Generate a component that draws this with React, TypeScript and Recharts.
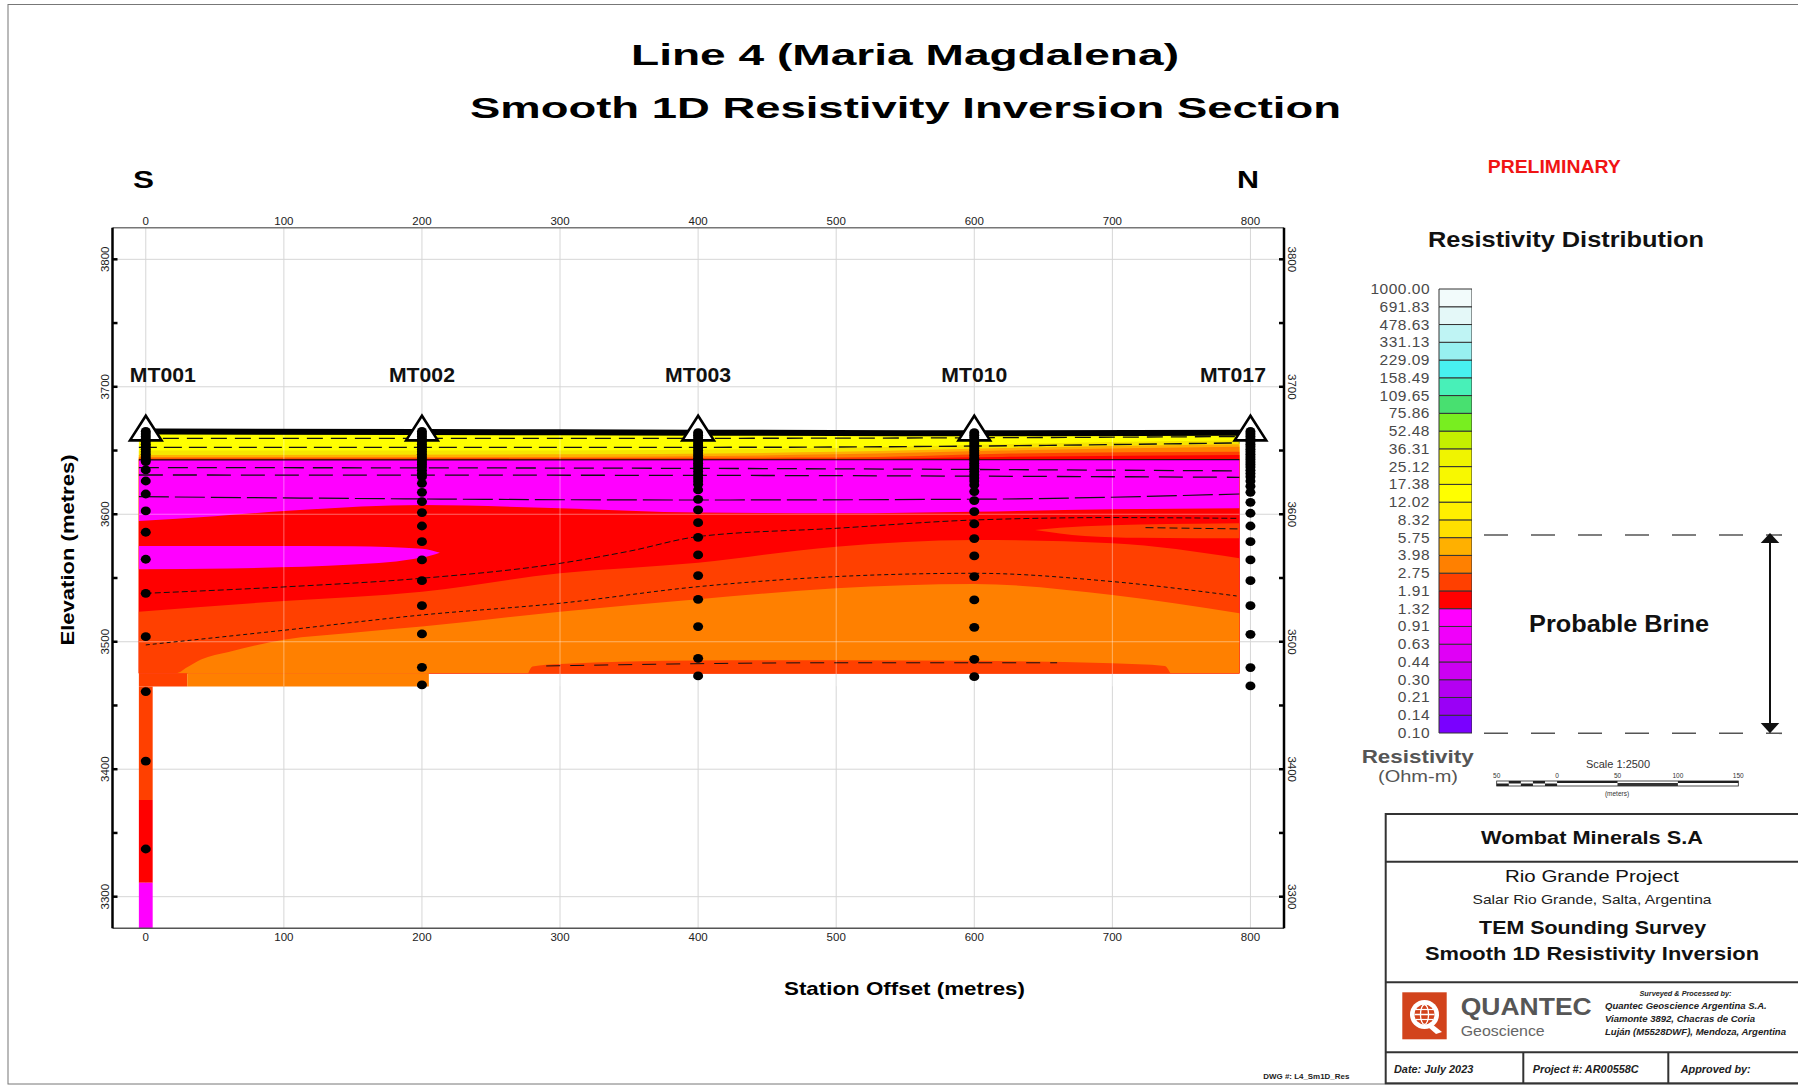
import React from "react";
import {
  ComposedChart,
  Area,
  Line,
  Scatter,
  XAxis,
  YAxis,
  CartesianGrid,
  BarChart,
  Bar,
} from "recharts";

const FONT = "'Liberation Sans', Arial, Helvetica, sans-serif";

type Pt = [number, number];

// ---- axes ----
const X_TICKS = [0, 100, 200, 300, 400, 500, 600, 700, 800];
const Y_TICKS = [3300, 3350, 3400, 3450, 3500, 3550, 3600, 3650, 3700, 3750, 3800];
const Y_GRID = [3300, 3400, 3500, 3600, 3700, 3800];
const X_DOMAIN: [number, number] = [-24.1, 824.3];
const Y_DOMAIN: [number, number] = [3275.2, 3824.8];

// ---- stations ----
const STATIONS = [0, 200, 400, 600, 800];
const STATION_NAMES = ["MT001", "MT002", "MT003", "MT010", "MT017"];
const SURFACE_ELEV = 3664;
const LABEL_ELEV = 3704;

// sounding layer elevations (m) per station
const DOTS_MT001 = [3665, 3663, 3661, 3659, 3657, 3655, 3653, 3651, 3649, 3647, 3645, 3643, 3641.3, 3634.8, 3626.1, 3615.9, 3602.6, 3585.9, 3564.7, 3538, 3504, 3460.9, 3406.4, 3337.4];
const DOTS_MT002 = [3665, 3663, 3661, 3659, 3657, 3655, 3653, 3651, 3649, 3647, 3645, 3643, 3641, 3639, 3637, 3634.5, 3632, 3629.5, 3624.3, 3617.2, 3609.9, 3601.3, 3590.8, 3578.5, 3564.2, 3547.9, 3528.3, 3506.1, 3479.9, 3466.1];
const DOTS_MT003 = [3664, 3662, 3660, 3658, 3656, 3654, 3652, 3650, 3648, 3646, 3644, 3642, 3640, 3638, 3636, 3633.5, 3631, 3628.5, 3626, 3623.5, 3619.1, 3611.7, 3603.4, 3593.4, 3581.9, 3568.1, 3551.9, 3533.3, 3511.9, 3487, 3473.2];
const DOTS_MT010 = [3664, 3662, 3660, 3658, 3656, 3654, 3652, 3650, 3648, 3646, 3644, 3642, 3640, 3638, 3636, 3633.5, 3631, 3628.5, 3626, 3623, 3617.8, 3610.7, 3602, 3592.4, 3580.9, 3567.3, 3551.1, 3532.8, 3511.3, 3486.2, 3472.6];
const DOTS_MT017 = [3665, 3663, 3661, 3659, 3657, 3655, 3653, 3651, 3649, 3647, 3645, 3643, 3641, 3639, 3637, 3634.5, 3632, 3629.5, 3626, 3622, 3617.2, 3609.4, 3600.8, 3590.8, 3578.5, 3564.2, 3547.9, 3528.3, 3505.8, 3479.7, 3465.3];
const STATION_DOTS = [DOTS_MT001, DOTS_MT002, DOTS_MT003, DOTS_MT010, DOTS_MT017];

// ---- resistivity section (elevation boundaries, m) ----
const FLOOR_EAST = 3475.3;
const FLOOR_WEST = 3464.8;
const COLUMN_FLOOR = 3275.2;

const SURFACE_LINE: Pt[] = [[-5, 3665], [200, 3664.5], [400, 3664], [600, 3663.5], [800, 3664]];
const TOP_YELLOW: Pt[] = [[-5, 3665], [200, 3664.5], [400, 3664], [600, 3663.5], [792, 3664]];
const TOP_GOLD: Pt[] = [[-5, 3650], [300, 3650], [500, 3652], [620, 3655], [792, 3658]];
const TOP_AMBER: Pt[] = [[-5, 3646.5], [300, 3647], [500, 3649], [620, 3652], [792, 3655]];
const TOP_ORANGE_THIN: Pt[] = [[-5, 3645], [300, 3645], [500, 3647], [620, 3650], [792, 3653]];
const TOP_REDOR_THIN: Pt[] = [[-5, 3643.8], [500, 3644.5], [620, 3647.5], [792, 3649]];
const TOP_RED_THIN: Pt[] = [[-5, 3643.2], [500, 3643.5], [620, 3645], [792, 3646.5]];
const TOP_MAGENTA: Pt[] = [[-5, 3642.5], [792, 3642.5]];
const TOP_RED: Pt[] = [[-5, 3594.7], [50, 3598.5], [100, 3602.5], [200, 3607.3], [300, 3604.7], [400, 3601.3], [500, 3600.8], [600, 3602], [700, 3603.9], [792, 3604.7]];
const TOP_REDOR: Pt[] = [[-5, 3523.6], [100, 3532], [200, 3539.3], [300, 3553.7], [400, 3562], [500, 3574.6], [600, 3579.8], [700, 3577.2], [792, 3565.5]];
const TOP_ORANGE: Pt[] = [[-5, 3475.3], [22, 3475.3], [30, 3480], [40, 3486], [60, 3492], [100, 3501.5], [150, 3507], [200, 3511.9], [300, 3523.6], [400, 3533.3], [500, 3541.9], [600, 3545.3], [700, 3536.7], [792, 3522.3]];

const WEST_STRIP_REDOR_X = [-5, 30];
const WEST_STRIP_ORANGE_X = [30, 205];

const LENS_MAGENTA_X = [-5, 60, 150, 200, 213];
const LENS_MAGENTA_LOW = [3556.8, 3557.5, 3560.5, 3566, 3569.9];
const LENS_MAGENTA_HIGH = [3575.1, 3575.1, 3575, 3573, 3569.9];

const LENS_EAST_X = [644, 680, 720, 760, 792];
const LENS_EAST_LOW = [3587.7, 3583, 3581.5, 3581.2, 3581.2];
const LENS_EAST_HIGH = [3587.7, 3590.5, 3592, 3592.5, 3592.9];

const BASE_BAND_X = [277, 280, 300, 400, 500, 600, 700, 738, 742];
const BASE_BAND_HIGH = [3475.3, 3480.5, 3482.5, 3485.2, 3485.5, 3485, 3483.1, 3481, 3475.3];

const COLUMN_X = [-5, 5];
const COLUMN_REDOR: [number, number] = [3375.9, 3464.8];
const COLUMN_RED: [number, number] = [3311, 3375.9];
const COLUMN_MAGENTA: [number, number] = [COLUMN_FLOOR, 3311];

// contour lines
const CONTOUR_TOP: Pt[] = [[-5, 3659.6], [400, 3659.6], [600, 3660], [792, 3661]];
const CONTOUR_10: Pt[] = [[-5, 3652.5], [400, 3652.5], [600, 3653.5], [792, 3656]];
const CONTOUR_1A: Pt[] = [[-5, 3642.7], [792, 3642.8]];
const CONTOUR_M1: Pt[] = [[-5, 3636.6], [400, 3636], [792, 3634]];
const CONTOUR_M2: Pt[] = [[-5, 3630.8], [400, 3630.5], [792, 3629]];
const CONTOUR_1B: Pt[] = [[-5, 3613.8], [400, 3611.2], [600, 3611.8], [792, 3615.9]];
const CONTOUR_C1: Pt[] = [[0, 3538], [100, 3543], [200, 3549.8], [300, 3561.5], [350, 3571], [400, 3582.5], [500, 3589], [600, 3595.5], [700, 3597.4], [790, 3596.8]];
const CONTOUR_C2: Pt[] = [[0, 3497.5], [100, 3509], [200, 3521], [300, 3530.2], [400, 3543.2], [500, 3551.1], [600, 3553.7], [700, 3547.2], [790, 3535.9]];
const CONTOUR_C3: Pt[] = [[290, 3481], [500, 3483.5], [660, 3483.5]];
const CONTOUR_LENS: Pt[] = [[724, 3589.5], [792, 3588.5]];

const GRID_OVER_X = [100, 300, 500, 700];
const GRID_OVER_Y = [3500, 3600];
const SECTION_SPAN: [number, number] = [-5, 792];
const SECTION_DEPTH: [number, number] = [3465, 3664];

// ---- colour scale ----
const BAR_LABELS = ["0.10", "0.14", "0.21", "0.30", "0.44", "0.63", "0.91", "1.32", "1.91", "2.75", "3.98", "5.75", "8.32", "12.02", "17.38", "25.12", "36.31", "52.48", "75.86", "109.65", "158.49", "229.09", "331.13", "478.63", "691.83", "1000.00"];
const BAR_COLORS = ["#7a00ff", "#9a00f6", "#b400f2", "#cc00f2", "#e000f6", "#f000fa", "#ff00ff", "#ff0000", "#ff4000", "#ff8000", "#ffb000", "#ffe000", "#fff000", "#ffff00", "#f8f800", "#f0f400", "#c4f000", "#78ee20", "#48e070", "#48f0b8", "#48f0f0", "#98f0f0", "#bff4f4", "#e4f8f8", "#f2fbfb"];

const C_YELLOW = "#ffff00";
const C_GOLD = "#f6e600";
const C_AMBER = "#ffb000";
const C_ORANGE = "#ff8000";
const C_REDOR = "#ff4000";
const C_RED = "#ff0000";
const C_MAGENTA = "#ff00ff";

const toBand = (pts: Pt[], floor: number) => pts.map(([x, y]) => ({ x, r: [floor, y] }));
const toRange = (xs: number[], lows: number[], highs: number[]) =>
  xs.map((x, i) => ({ x, r: [lows[i], highs[i]] }));
const toFlat = (xs: number[], span: [number, number]) => xs.map((x) => ({ x, r: span }));
const toLine = (pts: Pt[]) => pts.map(([x, y]) => ({ x, y }));

const LAYERS = [
  { id: "yellow", top: TOP_YELLOW, fill: C_YELLOW },
  { id: "gold", top: TOP_GOLD, fill: C_GOLD },
  { id: "amber", top: TOP_AMBER, fill: C_AMBER },
  { id: "orangeThin", top: TOP_ORANGE_THIN, fill: C_ORANGE },
  { id: "redorThin", top: TOP_REDOR_THIN, fill: C_REDOR },
  { id: "redThin", top: TOP_RED_THIN, fill: C_RED },
  { id: "magenta", top: TOP_MAGENTA, fill: C_MAGENTA },
  { id: "red", top: TOP_RED, fill: C_RED },
  { id: "redor", top: TOP_REDOR, fill: C_REDOR },
  { id: "orange", top: TOP_ORANGE, fill: C_ORANGE },
];

const RANGES = [
  { id: "stripRedor", data: toFlat(WEST_STRIP_REDOR_X, [FLOOR_WEST, FLOOR_EAST]), fill: C_REDOR, type: "linear" },
  { id: "stripOrange", data: toFlat(WEST_STRIP_ORANGE_X, [FLOOR_WEST, FLOOR_EAST]), fill: C_ORANGE, type: "linear" },
  { id: "lensMagenta", data: toRange(LENS_MAGENTA_X, LENS_MAGENTA_LOW, LENS_MAGENTA_HIGH), fill: C_MAGENTA, type: "monotone" },
  { id: "lensEast", data: toRange(LENS_EAST_X, LENS_EAST_LOW, LENS_EAST_HIGH), fill: C_REDOR, type: "monotone" },
  { id: "baseBand", data: toRange(BASE_BAND_X, BASE_BAND_X.map(() => FLOOR_EAST), BASE_BAND_HIGH), fill: C_REDOR, type: "monotone" },
  { id: "colRedor", data: toFlat(COLUMN_X, COLUMN_REDOR), fill: C_REDOR, type: "linear" },
  { id: "colRed", data: toFlat(COLUMN_X, COLUMN_RED), fill: C_RED, type: "linear" },
  { id: "colMagenta", data: toFlat(COLUMN_X, COLUMN_MAGENTA), fill: C_MAGENTA, type: "linear" },
];

const CONTOURS = [
  { id: "ct", pts: CONTOUR_TOP, dash: "16 8", w: 1.3 },
  { id: "c10", pts: CONTOUR_10, dash: "18 7", w: 1.4 },
  { id: "c1a", pts: CONTOUR_1A, dash: undefined, w: 1.2 },
  { id: "cm1", pts: CONTOUR_M1, dash: "20 9", w: 1.3 },
  { id: "cm2", pts: CONTOUR_M2, dash: "24 10", w: 1.3 },
  { id: "c1b", pts: CONTOUR_1B, dash: "30 6", w: 1.2 },
  { id: "cc1", pts: CONTOUR_C1, dash: "6 3", w: 1 },
  { id: "cc2", pts: CONTOUR_C2, dash: "4 3", w: 1 },
  { id: "cc3", pts: CONTOUR_C3, dash: "14 10", w: 1 },
  { id: "clens", pts: CONTOUR_LENS, dash: "8 4", w: 1 },
];

const dotPoints = STATIONS.flatMap((x, i) => STATION_DOTS[i].map((y) => ({ x, y })));
const trianglePoints = STATIONS.map((x) => ({ x, y: SURFACE_ELEV }));
const labelPoints = STATIONS.map((x, i) => ({ x, y: LABEL_ELEV, name: STATION_NAMES[i], i }));
const gridOverlays = [
  ...GRID_OVER_X.map((x) => [{ x, y: SECTION_DEPTH[0] }, { x, y: SECTION_DEPTH[1] }]),
  ...GRID_OVER_Y.map((y) => [{ x: SECTION_SPAN[0], y }, { x: SECTION_SPAN[1], y }]),
];

const barRow: Record<string, number | string> = { name: "scale" };
BAR_COLORS.forEach((_, i) => (barRow[`c${i}`] = 1));

function TopTick(p: any) {
  return (
    <text x={p.x} y={p.y - 2.7} textAnchor="middle" fontSize={11.5} fill="#222" fontFamily={FONT}>
      {p.payload.value}
    </text>
  );
}

function BottomTick(p: any) {
  return (
    <text x={p.x} y={p.y + 12.4} textAnchor="middle" fontSize={11.5} fill="#222" fontFamily={FONT}>
      {p.payload.value}
    </text>
  );
}

function LeftTick(p: any) {
  const v = p.payload.value;
  const tx = p.x - 3;
  return (
    <g>
      <line x1={p.x} x2={p.x + 5} y1={p.y} y2={p.y} stroke="#000" strokeWidth={2.5} />
      {v % 100 === 0 && (
        <text x={tx} y={p.y} transform={`rotate(-90 ${tx} ${p.y})`} textAnchor="middle" fontSize={11.5} fill="#222" fontFamily={FONT}>
          {v}
        </text>
      )}
    </g>
  );
}

function RightTick(p: any) {
  const v = p.payload.value;
  const tx = p.x + 4;
  return (
    <g>
      <line x1={p.x - 5} x2={p.x} y1={p.y} y2={p.y} stroke="#000" strokeWidth={2.5} />
      {v % 100 === 0 && (
        <text x={tx} y={p.y} transform={`rotate(90 ${tx} ${p.y})`} textAnchor="middle" fontSize={11.5} fill="#222" fontFamily={FONT}>
          {v}
        </text>
      )}
    </g>
  );
}

function BarTick(p: any) {
  return (
    <text x={p.x - 9} y={p.y + 5} textAnchor="end" fontSize={15.5} letterSpacing={0.5} fill="#4a4a4a" fontFamily={FONT}>
      {BAR_LABELS[p.payload.value]}
    </text>
  );
}

function SectionChart() {
  return (
    <ComposedChart width={1340} height={1085} margin={{ top: 207.7, right: 26, bottom: 136.7, left: 82.5 }}>
      <CartesianGrid xAxisId="b" yAxisId="l" stroke="#d6d6d6" verticalValues={X_TICKS} horizontalValues={Y_GRID} />
      <XAxis xAxisId="b" dataKey="x" type="number" orientation="bottom" domain={X_DOMAIN} ticks={X_TICKS} interval={0}
        allowDataOverflow height={20} tickSize={0} tickMargin={0} tickLine={false}
        axisLine={{ stroke: "#555", strokeWidth: 1.5 }} tick={(p: any) => <BottomTick {...p} />} />
      <XAxis xAxisId="t" dataKey="x" type="number" orientation="top" domain={X_DOMAIN} ticks={X_TICKS} interval={0}
        allowDataOverflow height={20} tickSize={0} tickMargin={0} tickLine={false}
        axisLine={{ stroke: "#777", strokeWidth: 1.5 }} tick={(p: any) => <TopTick {...p} />} />
      <YAxis yAxisId="l" dataKey="y" type="number" orientation="left" domain={Y_DOMAIN} ticks={Y_TICKS} interval={0}
        allowDataOverflow width={30} tickSize={0} tickMargin={0} tickLine={false}
        axisLine={{ stroke: "#000", strokeWidth: 2.5 }} tick={(p: any) => <LeftTick {...p} />} />
      <YAxis yAxisId="r" dataKey="y" type="number" orientation="right" domain={Y_DOMAIN} ticks={Y_TICKS} interval={0}
        allowDataOverflow width={30} tickSize={0} tickMargin={0} tickLine={false}
        axisLine={{ stroke: "#000", strokeWidth: 2.5 }} tick={(p: any) => <RightTick {...p} />} />

      {LAYERS.map((l) => (
        <Area key={l.id} xAxisId="b" yAxisId="l" data={toBand(l.top, FLOOR_EAST)} dataKey="r" type="monotone"
          stroke="none" fill={l.fill} fillOpacity={1} dot={false} activeDot={false} isAnimationActive={false} />
      ))}
      {RANGES.map((r) => (
        <Area key={r.id} xAxisId="b" yAxisId="l" data={r.data} dataKey="r" type={r.type as any}
          stroke="none" fill={r.fill} fillOpacity={1} dot={false} activeDot={false} isAnimationActive={false} />
      ))}

      {gridOverlays.map((d, i) => (
        <Line key={`go${i}`} xAxisId="b" yAxisId="l" data={d} dataKey="y" type="linear" stroke="#ffffff"
          strokeOpacity={0.4} strokeWidth={1} dot={false} activeDot={false} isAnimationActive={false} />
      ))}
      {CONTOURS.map((c) => (
        <Line key={c.id} xAxisId="b" yAxisId="l" data={toLine(c.pts)} dataKey="y" type="monotone" stroke="#111"
          strokeWidth={c.w} strokeDasharray={c.dash} dot={false} activeDot={false} isAnimationActive={false} />
      ))}
      <Line xAxisId="b" yAxisId="l" data={toLine(SURFACE_LINE)} dataKey="y" type="monotone" stroke="#000"
        strokeWidth={6} dot={false} activeDot={false} isAnimationActive={false} />

      <Scatter xAxisId="b" yAxisId="l" data={trianglePoints} isAnimationActive={false}
        shape={(p: any) => (
          <polygon points={`${p.cx},${p.cy - 17} ${p.cx - 15.8},${p.cy + 7.7} ${p.cx + 15.8},${p.cy + 7.7}`}
            fill="#fff" stroke="#000" strokeWidth={2.6} />
        )} />
      <Scatter xAxisId="b" yAxisId="r" data={dotPoints} isAnimationActive={false}
        shape={(p: any) => <ellipse cx={p.cx} cy={p.cy} rx={5} ry={4.4} fill="#000" />} />
      <Scatter xAxisId="t" yAxisId="l" data={labelPoints} isAnimationActive={false}
        shape={(p: any) => {
          const i = p.payload.i;
          const dx = i === 0 ? 17 : i === STATIONS.length - 1 ? -17.5 : 0;
          return (
            <text x={p.cx + dx} y={p.cy} textAnchor="middle" fontSize={19.5} fontWeight="bold" fill="#111"
              fontFamily={FONT} textLength={66} lengthAdjust="spacingAndGlyphs">
              {p.payload.name}
            </text>
          );
        }} />
    </ComposedChart>
  );
}

function ColorBar() {
  return (
    <BarChart width={132} height={464} data={[barRow]} margin={{ top: 10, right: 0, bottom: 10, left: 0 }}
      barCategoryGap={0} barGap={0}>
      <XAxis dataKey="name" hide />
      <YAxis type="number" domain={[0, 25]} ticks={BAR_LABELS.map((_, i) => i)} interval={0} width={99}
        tickSize={0} tickMargin={0} tickLine={false} axisLine={false} tick={(p: any) => <BarTick {...p} />} />
      {BAR_COLORS.map((c, i) => (
        <Bar key={i} dataKey={`c${i}`} stackId="s" fill={c} stroke="#333" strokeWidth={1} isAnimationActive={false} />
      ))}
    </BarChart>
  );
}

const SCALE_LABELS = ["50", "0", "50", "100", "150"];

function Overlay() {
  const bold = { fontWeight: "bold" as const, fontFamily: FONT };
  const sx0 = 1496.7;
  const sStep = 60.4;
  return (
    <svg width={1798} height={1085} style={{ position: "absolute", left: 0, top: 0, pointerEvents: "none" }}>
      <rect x={8} y={4.5} width={1800} height={1079.5} fill="none" stroke="#777" strokeWidth={1} />

      <text x={631} y={65} fontSize={29} {...bold} fill="#000" textLength={548} lengthAdjust="spacingAndGlyphs">
        Line 4 (Maria Magdalena)
      </text>
      <text x={470} y={117.5} fontSize={29} {...bold} fill="#000" textLength={871} lengthAdjust="spacingAndGlyphs">
        Smooth 1D Resistivity Inversion Section
      </text>
      <text x={133} y={188.3} fontSize={23} {...bold} fill="#000" textLength={21} lengthAdjust="spacingAndGlyphs">S</text>
      <text x={1237} y={188.3} fontSize={23} {...bold} fill="#000" textLength={22} lengthAdjust="spacingAndGlyphs">N</text>

      <text x={74} y={550} transform="rotate(-90 74 550)" textAnchor="middle" fontSize={19} {...bold} fill="#000"
        textLength={191} lengthAdjust="spacingAndGlyphs">Elevation (metres)</text>
      <text x={904.5} y={994.5} textAnchor="middle" fontSize={19} {...bold} fill="#000"
        textLength={241} lengthAdjust="spacingAndGlyphs">Station Offset (metres)</text>

      <text x={1487.7} y={173.3} fontSize={18.5} {...bold} fill="#f01414" textLength={133} lengthAdjust="spacingAndGlyphs">
        PRELIMINARY
      </text>
      <text x={1428} y={246.7} fontSize={22} {...bold} fill="#111" textLength={276} lengthAdjust="spacingAndGlyphs">
        Resistivity Distribution
      </text>

      <line x1={1484} x2={1782} y1={535} y2={535} stroke="#555" strokeWidth={1.6} strokeDasharray="24 23" />
      <line x1={1484} x2={1782} y1={733.3} y2={733.3} stroke="#555" strokeWidth={1.6} strokeDasharray="24 23" />
      <line x1={1770} x2={1770} y1={540} y2={728} stroke="#111" strokeWidth={2} />
      <polygon points="1770,533 1760.7,543 1779.3,543" fill="#111" />
      <polygon points="1770,733.3 1760.7,723 1779.3,723" fill="#111" />
      <text x={1529} y={632.3} fontSize={24} {...bold} fill="#111" textLength={180} lengthAdjust="spacingAndGlyphs">
        Probable Brine
      </text>

      <text x={1361.7} y={763.3} fontSize={18} {...bold} fill="#555" textLength={112} lengthAdjust="spacingAndGlyphs">
        Resistivity
      </text>
      <text x={1378} y={781.5} fontSize={16} fontFamily={FONT} fill="#555" textLength={80} lengthAdjust="spacingAndGlyphs">
        (Ohm-m)
      </text>

      <text x={1618} y={767.5} textAnchor="middle" fontSize={11} fontFamily={FONT} fill="#333">Scale 1:2500</text>
      {SCALE_LABELS.map((s, i) => (
        <text key={i} x={sx0 + i * sStep} y={778} textAnchor="middle" fontSize={6.5} fontFamily={FONT} fill="#333">{s}</text>
      ))}
      <rect x={sx0} y={781} width={sStep * 4} height={5} fill="#fff" stroke="#222" strokeWidth={0.8} />
      {[0, 1, 2, 3, 4].map((k) => (
        <rect key={k} x={sx0 + k * (sStep / 5)} y={k % 2 === 0 ? 783.5 : 781} width={sStep / 5} height={2.5} fill="#222" />
      ))}
      <rect x={sx0 + sStep} y={781} width={sStep} height={2} fill="#222" />
      <rect x={sx0 + sStep * 2} y={783} width={sStep} height={3} fill="#333" />
      <rect x={sx0 + sStep * 3} y={781} width={sStep} height={2} fill="#222" />
      <text x={1617} y={796} textAnchor="middle" fontSize={6.5} fontFamily={FONT} fill="#333">(meters)</text>

      <text x={1263.3} y={1079} fontSize={8} {...bold} fill="#222" textLength={86} lengthAdjust="spacingAndGlyphs">
        DWG #: L4_Sm1D_Res
      </text>

      {/* title block */}
      <rect x={1385.7} y={814} width={420} height={269.3} fill="none" stroke="#333" strokeWidth={2} />
      <line x1={1385.7} x2={1800} y1={861.7} y2={861.7} stroke="#333" strokeWidth={2} />
      <line x1={1385.7} x2={1800} y1={982.3} y2={982.3} stroke="#333" strokeWidth={2} />
      <line x1={1385.7} x2={1800} y1={1052.3} y2={1052.3} stroke="#333" strokeWidth={2} />
      <line x1={1523.3} x2={1523.3} y1={1052.3} y2={1083.3} stroke="#333" strokeWidth={2} />
      <line x1={1668.3} x2={1668.3} y1={1052.3} y2={1083.3} stroke="#333" strokeWidth={2} />

      <text x={1592} y={844.3} textAnchor="middle" fontSize={18} {...bold} fill="#111" textLength={222} lengthAdjust="spacingAndGlyphs">
        Wombat Minerals S.A
      </text>
      <text x={1592} y={881.7} textAnchor="middle" fontSize={17} fontFamily={FONT} fill="#111" textLength={174} lengthAdjust="spacingAndGlyphs">
        Rio Grande Project
      </text>
      <text x={1592} y={904} textAnchor="middle" fontSize={13.5} fontFamily={FONT} fill="#222" textLength={239} lengthAdjust="spacingAndGlyphs">
        Salar Rio Grande, Salta, Argentina
      </text>
      <text x={1592.6} y={934} textAnchor="middle" fontSize={17.5} {...bold} fill="#111" textLength={227} lengthAdjust="spacingAndGlyphs">
        TEM Sounding Survey
      </text>
      <text x={1592} y={960} textAnchor="middle" fontSize={17.5} {...bold} fill="#111" textLength={334} lengthAdjust="spacingAndGlyphs">
        Smooth 1D Resistivity Inversion
      </text>

      <rect x={1402.3} y={992.3} width={44.4} height={47} fill="#d2431c" />
      <circle cx={1424.5} cy={1014.5} r={14.5} fill="#fff" />
      <circle cx={1424.5} cy={1014.5} r={10} fill="#d2431c" />
      <line x1={1414.5} x2={1434.5} y1={1014.5} y2={1014.5} stroke="#fff" strokeWidth={1.5} />
      <line x1={1416} x2={1433} y1={1009.5} y2={1009.5} stroke="#fff" strokeWidth={1.2} />
      <line x1={1416} x2={1433} y1={1019.5} y2={1019.5} stroke="#fff" strokeWidth={1.2} />
      <ellipse cx={1424.5} cy={1014.5} rx={4} ry={10} fill="none" stroke="#fff" strokeWidth={1.3} />
      <polygon points="1432,1024 1442,1032 1436,1034 1428,1027" fill="#fff" />
      <text x={1460.7} y={1015} fontSize={24.5} {...bold} fill="#565656" textLength={131} lengthAdjust="spacingAndGlyphs">
        QUANTEC
      </text>
      <text x={1460.7} y={1036} fontSize={15} fontFamily={FONT} fill="#666" textLength={84} lengthAdjust="spacingAndGlyphs">
        Geoscience
      </text>
      <text x={1685.5} y={996} textAnchor="middle" fontSize={7} {...bold} fontStyle="italic" fill="#222" textLength={92} lengthAdjust="spacingAndGlyphs">
        Surveyed &amp; Processed by:
      </text>
      <text x={1605} y={1009.3} fontSize={9.5} {...bold} fontStyle="italic" fill="#222" textLength={161.7} lengthAdjust="spacingAndGlyphs">
        Quantec Geoscience Argentina S.A.
      </text>
      <text x={1605} y={1022.3} fontSize={9.5} {...bold} fontStyle="italic" fill="#222" textLength={150} lengthAdjust="spacingAndGlyphs">
        Viamonte 3892, Chacras de Coria
      </text>
      <text x={1605} y={1034.7} fontSize={9.5} {...bold} fontStyle="italic" fill="#222" textLength={181} lengthAdjust="spacingAndGlyphs">
        Luján (M5528DWF), Mendoza, Argentina
      </text>
      <text x={1394} y={1072.7} fontSize={10.5} {...bold} fontStyle="italic" fill="#222" textLength={79.3} lengthAdjust="spacingAndGlyphs">
        Date: July 2023
      </text>
      <text x={1532.7} y={1072.7} fontSize={10.5} {...bold} fontStyle="italic" fill="#222" textLength={106} lengthAdjust="spacingAndGlyphs">
        Project #: AR00558C
      </text>
      <text x={1680.7} y={1072.7} fontSize={10.5} {...bold} fontStyle="italic" fill="#222" textLength={70} lengthAdjust="spacingAndGlyphs">
        Approved by:
      </text>
    </svg>
  );
}

export default function App() {
  return (
    <div style={{ position: "absolute", left: 0, top: 0, width: 1798, height: 1085, background: "#fff", overflow: "hidden", fontFamily: FONT }}>
      <div style={{ position: "absolute", left: 0, top: 0 }}>
        <SectionChart />
      </div>
      <div style={{ position: "absolute", left: 1340, top: 279 }}>
        <ColorBar />
      </div>
      <Overlay />
    </div>
  );
}
